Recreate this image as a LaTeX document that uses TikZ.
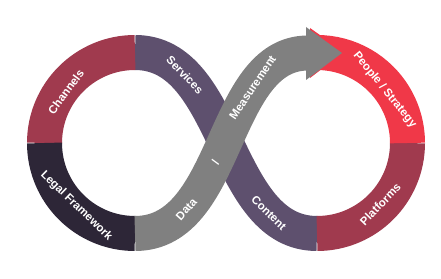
\documentclass[tikz,border=0pt]{standalone}
\usepackage{fontspec}
\setmainfont{Liberation Sans}
\definecolor{loopCrimson}{RGB}{160,58,78}
\definecolor{loopPurple}{RGB}{94,80,110}
\definecolor{loopDark}{RGB}{45,38,55}
\definecolor{loopRed}{RGB}{240,56,72}
\definecolor{loopGray}{RGB}{128,128,128}

\begin{document}
\begin{tikzpicture}[x=1pt, y=1pt,
  band/.style={line width=35pt, line cap=butt},
  lbl/.style={text=white, font=\bfseries\fontsize{11.5}{13}\selectfont, inner sep=0pt}]
  \useasboundingbox (0,0) rectangle (441,278);
  \coordinate (lc) at (135,135);
  \coordinate (rc) at (317,135);
  % Crossing band
  \draw[band, loopPurple] (135,225.5) .. controls (230,225.5) and (222,44.5) .. (317,44.5)
    node[lbl, pos=0.22, sloped] (services) {Services}
    node[lbl, pos=0.79, sloped] (content) {Content};
  % Left ring
  \draw[band, loopCrimson] (lc) ++(180:90.5) arc[start angle=180, end angle=90, radius=90.5];
  \draw[band, loopDark] (lc) ++(270:90.5) arc[start angle=270, end angle=180, radius=90.5];
  % Right ring
  \draw[band, loopCrimson] (rc) ++(0:90.5) arc[start angle=0, end angle=-90, radius=90.5];
  \draw[band, loopRed] (rc) ++(94:90.5) arc[start angle=94, end angle=0, radius=90.5];
  \fill[loopRed] (310,250) -- (344,226) -- (310,200) -- cycle;
  % Arrow
  \draw[band, loopGray] (135,44.5) .. controls (230,44.5) and (220,225) .. (308,225)
    node[lbl, pos=0.23, sloped] (data) {Data}
    node[lbl, pos=0.43, sloped] (slash) {/}
    node[lbl, pos=0.72, sloped] (measure) {Measurement};
  \fill[loopGray] (306,251) -- (342,225) -- (306,198) -- cycle;
  % Ring labels
  \node[lbl, rotate=53.5] (channels) at ([shift={(143.5:86)}]lc) {Channels};
  \node[lbl, rotate=-44] (legal) at ([shift={(227:86)}]lc) {Legal Framework};
  \node[lbl, rotate=-51] (people) at ([shift={(38:86)}]rc) {People / Strategy};
  \node[lbl, rotate=46] (platforms) at ([shift={(-44:88)}]rc) {Platforms};
\end{tikzpicture}
\end{document}
